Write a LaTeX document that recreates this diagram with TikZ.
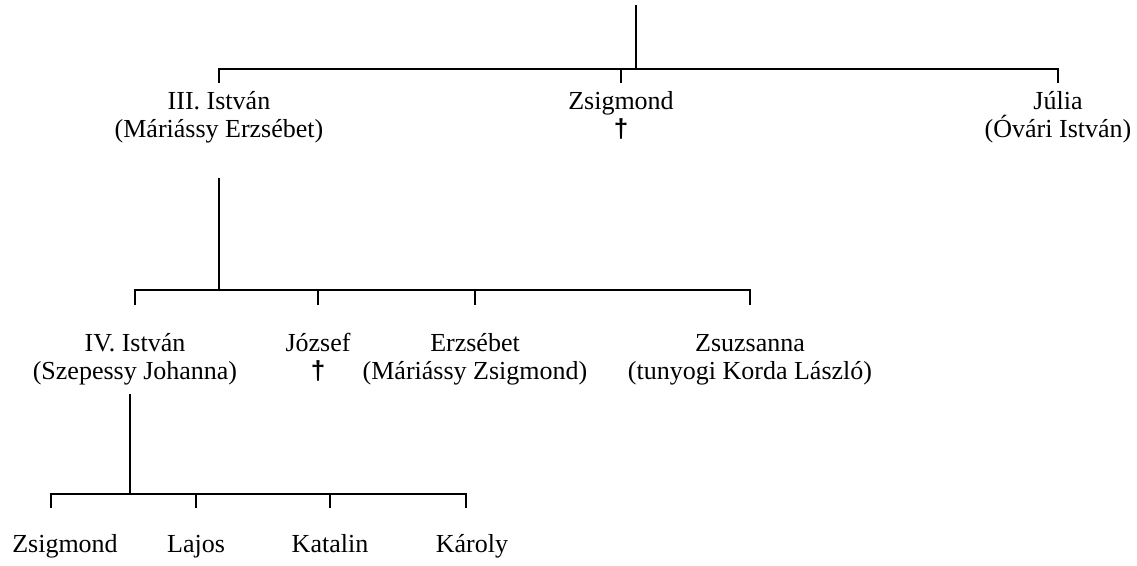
\documentclass[tikz,border=0pt]{standalone}
\usepackage{fontspec}
\setmainfont{Liberation Serif}
\newfontfamily\crossfont{Liberation Sans}

\tikzset{
  person/.style={align=center, inner sep=0pt, font=\fontsize{19.5}{20.5}\selectfont},
  branch/.style={line width=1.4pt, line join=miter},
}
\newcommand{\elhunyt}{{\crossfont\bfseries †}}
\newcommand{\pair}[2]{\strut\smash{#1}\\\strut\smash{#2}}

\begin{document}
\begin{tikzpicture}[x=0.75pt, y=-0.75pt]
    \useasboundingbox (0,0) rectangle (1137,565);

    % --- First generation ---
    \coordinate (root) at (636,5);
    \coordinate (bar1) at (636,69);

    \node[person] (istvan3)   at (219,118)  {\pair{III. István}{(Máriássy Erzsébet)}};
    \node[person] (zsigmond1) at (621,118)  {\pair{Zsigmond}{\elhunyt}};
    \node[person] (julia)     at (1058,118) {\pair{Júlia}{(Óvári István)}};

    \draw[branch] (root) -- (bar1);
    \draw[branch] (istvan3 |- bar1) ++(0,14) -- (istvan3 |- bar1)
        -- (julia |- bar1) -- ++(0,14);
    \draw[branch] (zsigmond1 |- bar1) -- ++(0,14);

    % --- Second generation ---
    \coordinate (stem2) at (219,178);
    \coordinate (bar2) at (219,290);

    \node[person] (istvan4)  at (135,360) {\pair{IV. István}{(Szepessy Johanna)}};
    \node[person] (jozsef)   at (318,360) {\pair{József}{\elhunyt}};
    \node[person] (erzsebet) at (475,360) {\pair{Erzsébet}{(Máriássy Zsigmond)}};
    \node[person] (zsuzsa)   at (750,360) {\pair{Zsuzsanna}{(tunyogi Korda László)}};

    \draw[branch] (stem2) -- (bar2);
    \draw[branch] (istvan4 |- bar2) ++(0,15) -- (istvan4 |- bar2)
        -- (zsuzsa |- bar2) -- ++(0,15);
    \foreach \n in {jozsef, erzsebet}
        \draw[branch] (\n |- bar2) -- ++(0,15);

    % --- Third generation ---
    \coordinate (stem3) at (130,394);
    \coordinate (bar3) at (51,494);

    \node[person, anchor=base] (zsigmond2) at (65,552)  {Zsigmond};
    \node[person, anchor=base] (lajos)     at (196,552) {Lajos};
    \node[person, anchor=base] (katalin)   at (330,552) {Katalin};
    \node[person, anchor=base] (karoly)    at (472,552) {Károly};

    \draw[branch] (stem3) -- (stem3 |- bar3);
    \draw[branch] (bar3) ++(0,14) -- (bar3) -- (466,494) -- ++(0,14);
    \foreach \n in {lajos, katalin}
        \draw[branch] (\n |- bar3) -- ++(0,14);

\end{tikzpicture}
\end{document}
